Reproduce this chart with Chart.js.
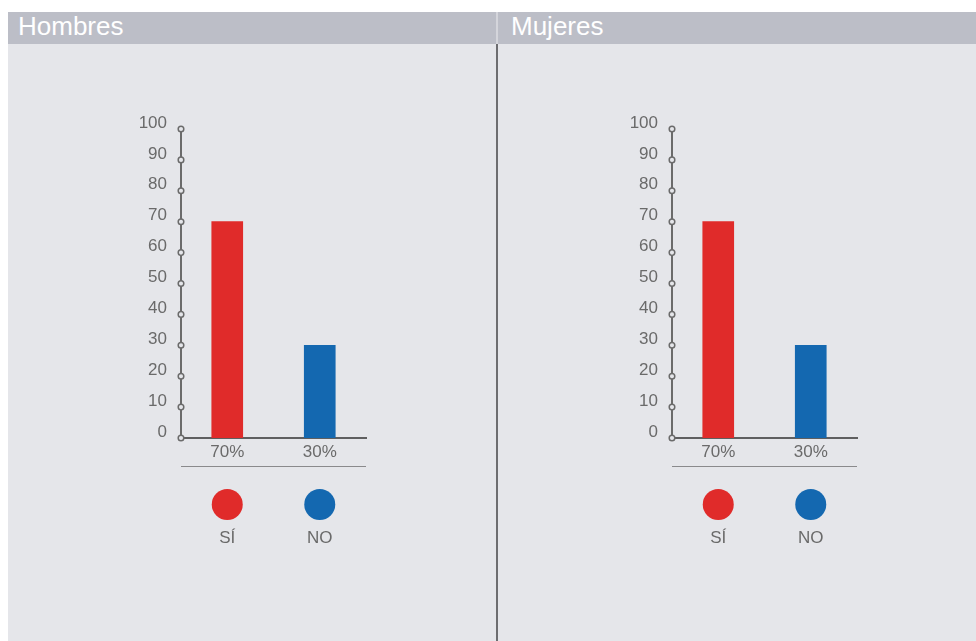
<!DOCTYPE html>
<html>
<head>
<meta charset="utf-8">
<script src="https://cdn.jsdelivr.net/npm/chart.js@4/dist/chart.umd.min.js"></script>
<style>
  body { margin: 0; width: 976px; height: 641px; background: #fff; overflow: hidden; position: relative; font-family: "Liberation Sans", Arial, sans-serif; }
  .head { position: absolute; top: 12px; height: 32px; background: #bcbec7; color: #fff; font-size: 26px; line-height: 29px; }
  .panel { position: absolute; top: 44px; height: 597px; background: #e5e6ea; }
  .divider { position: absolute; left: 496px; top: 44px; width: 2px; height: 597px; background: #6d6d70; }
  .hdiv { position: absolute; left: 496px; top: 12px; width: 2px; height: 32px; background: #d4d5db; }
  canvas { position: absolute; top: 44px; }
</style>
</head>
<body>
<div class="head" style="left:8px;width:488px;"><span style="padding-left:10px">Hombres</span></div>
<div class="head" style="left:498px;width:478px;"><span style="padding-left:13px">Mujeres</span></div>
<div class="hdiv"></div>
<div class="panel" style="left:8px;width:488px;"></div>
<div class="panel" style="left:498px;width:478px;"></div>
<div class="divider"></div>
<canvas id="hombres" width="489" height="597" style="left:8px;width:489px;height:597px"></canvas>
<canvas id="mujeres" width="478" height="597" style="left:498px;width:478px;height:597px"></canvas>
<script>
// data
const categories = ['SÍ', 'NO'];
const tickLabels = ['70%', '30%'];
const hombresValues = [70, 30];
const mujeresValues = [70, 30];
const barColors = ['#e02b2a', '#1468b0'];
const yMax = 100;
const yStep = 10;

const bg = '#e5e6ea';
const txt = '#6a6a6a';
const fontFam = '"Liberation Sans", Arial, sans-serif';

/* circles on the y axis, separator and the legend dots */
const decor = {
  id: 'decor',
  afterDraw(chart) {
    const ctx = chart.ctx;
    const ys = chart.scales.y, xs = chart.scales.x;
    const a = chart.chartArea;
    ctx.save();
    // tick circles
    ys.ticks.forEach(function(t) {
      const y = ys.getPixelForValue(t.value);
      ctx.beginPath();
      ctx.arc(a.left, y, 2.8, 0, Math.PI * 2);
      ctx.fillStyle = bg;
      ctx.fill();
      ctx.lineWidth = 1.5;
      ctx.strokeStyle = '#6b6b6b';
      ctx.stroke();
    });
    // separator
    ctx.beginPath();
    ctx.moveTo(a.left, a.bottom + 28.5);
    ctx.lineTo(a.right, a.bottom + 28.5);
    ctx.lineWidth = 1;
    ctx.strokeStyle = '#8a8a8c';
    ctx.stroke();
    // legend
    categories.forEach(function(c, i) {
      const x = xs.getPixelForValue(i);
      ctx.beginPath();
      ctx.arc(x, a.bottom + 66.5, 15.5, 0, Math.PI * 2);
      ctx.fillStyle = barColors[i];
      ctx.fill();
      ctx.fillStyle = txt;
      ctx.font = '17px ' + fontFam;
      ctx.textAlign = 'center';
      ctx.textBaseline = 'middle';
      ctx.fillText(c, x, a.bottom + 100);
    });
    ctx.restore();
  }
};

function makeChart(id, values, padLeft, padRight) {
  return new Chart(document.getElementById(id), {
    type: 'bar',
    data: {
      labels: tickLabels,
      datasets: [{
        data: values,
        backgroundColor: barColors,
        barThickness: 31
      }]
    },
    options: {
      responsive: false,
      animation: false,
      events: [],
      layout: { padding: { left: padLeft, right: padRight, top: 85, bottom: 173 } },
      plugins: { legend: { display: false }, tooltip: { enabled: false } },
      scales: {
        x: {
          grid: { display: false, drawTicks: false },
          border: { display: true, color: '#5f5f60', width: 2 },
          ticks: { color: txt, font: { size: 17, family: fontFam }, padding: 4 },
          afterFit: function(s) { s.height = 30; }
        },
        y: {
          min: 0, max: yMax,
          grid: { display: false, drawTicks: false },
          border: { display: true, color: '#6b6b6b', width: 2 },
          ticks: { stepSize: yStep, color: txt, font: { size: 17, family: fontFam }, padding: 14, labelOffset: -6 },
          afterFit: function(s) { s.width = 50; }
        }
      }
    },
    plugins: [decor]
  });
}

makeChart('hombres', hombresValues, 123, 131);
makeChart('mujeres', mujeresValues, 124, 119);
</script>
</body>
</html>
